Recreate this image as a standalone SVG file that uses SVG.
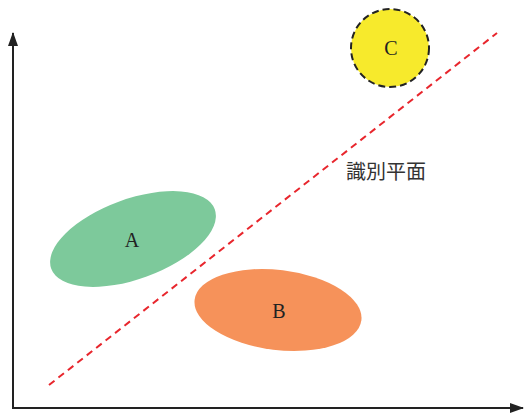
<svg xmlns="http://www.w3.org/2000/svg" width="525" height="415" viewBox="0 0 525 415">
<style>
.lbl{font-family:"Liberation Serif","Noto Sans CJK JP",serif;font-size:20px;fill:#222;text-anchor:middle;dominant-baseline:central}
.cjk{font-family:"Noto Sans CJK JP",sans-serif;font-size:20px;fill:#333;text-anchor:middle;dominant-baseline:central}
.axis{stroke:#222;stroke-width:2;fill:none}
</style>
<defs>
<marker id="arr" viewBox="0 0 14 10" refX="13" refY="5" markerWidth="14" markerHeight="10" orient="auto" markerUnits="userSpaceOnUse">
<path d="M0,0 L14,5 L0,10 z" fill="#222"/>
</marker>
</defs>
<rect width="525" height="415" fill="#fff"/>
<g id="connectors">
<line class="axis" x1="13" y1="409" x2="13" y2="33" marker-end="url(#arr)"/>
<line class="axis" x1="12" y1="408" x2="523" y2="408" marker-end="url(#arr)"/>
<line x1="49" y1="385" x2="497" y2="33" stroke="#e8262d" stroke-width="2" stroke-dasharray="7,5"/>
</g>
<g id="A">
<ellipse cx="133" cy="239" rx="87" ry="40" transform="rotate(-20 133 239)" fill="#7dc99b"/>
<text class="lbl" x="132" y="240">A</text>
</g>
<g id="B">
<ellipse cx="278" cy="310" rx="84" ry="40" transform="rotate(7 278 310)" fill="#f6925a"/>
<text class="lbl" x="279" y="311">B</text>
</g>
<g id="C">
<circle cx="390" cy="48" r="39" fill="#f7ea2c" stroke="#222" stroke-width="2" stroke-dasharray="7,4"/>
<text class="lbl" x="391" y="48">C</text>
</g>
<g id="plane-label">
<text x="386" y="170" class="cjk">識別平面</text>
</g>
</svg>
